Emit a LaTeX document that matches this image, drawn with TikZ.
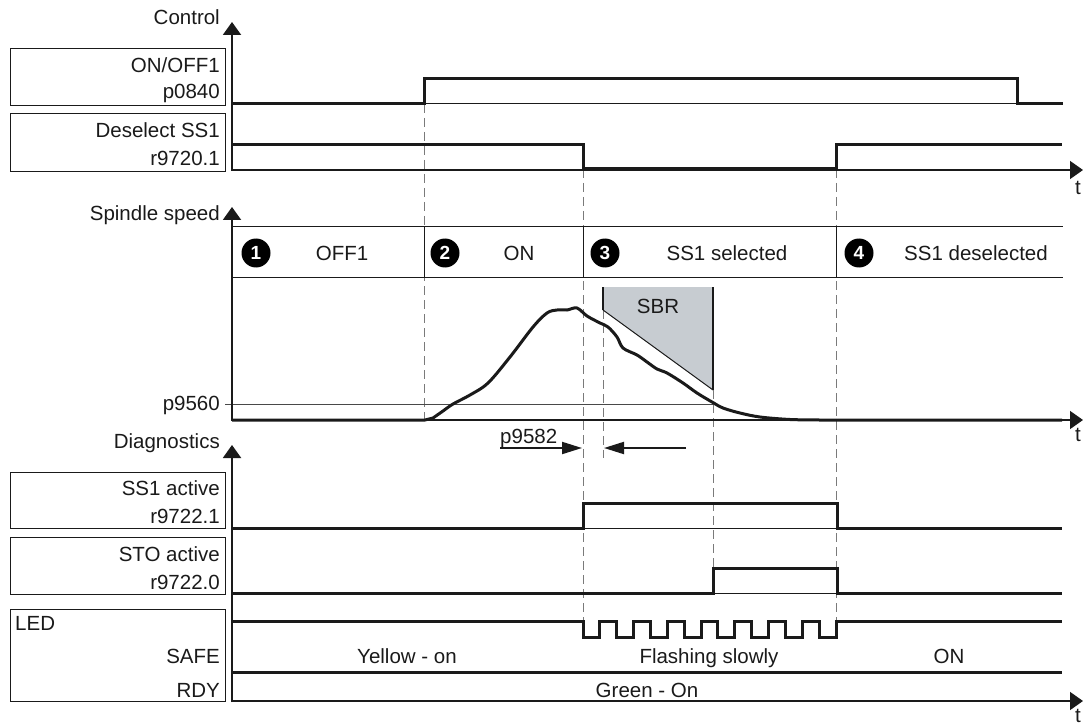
\documentclass[tikz,border=0pt]{standalone}
\usepackage{fontspec}
\setmainfont{Liberation Sans}
\usetikzlibrary{arrows.meta,positioning}
\definecolor{inkgray}{HTML}{1A1A1A}
\definecolor{guidegray}{HTML}{7A7A7A}
\definecolor{sbrgray}{HTML}{C7CCD1}

\begin{document}
\begin{tikzpicture}[
  x=1pt, y=-1pt,
  font=\fontsize{20.5}{24}\selectfont,
  sig/.style={line width=3pt, draw=inkgray},
  zeroline/.style={line width=1pt, draw=inkgray},
  yaxis/.style={line width=2pt, draw=inkgray, -{Triangle[length=13pt,width=18pt]}},
  taxis/.style={line width=1.5pt, draw=inkgray, -{Triangle[length=13pt,width=18pt]}},
  guide/.style={line width=1pt, draw=guidegray, dash pattern=on 9pt off 5pt},
  namebox/.style={draw=inkgray, line width=0.9pt},
  rlabel/.style={anchor=base east, inner sep=0pt, text=inkgray},
  mlabel/.style={anchor=base, inner sep=0pt, text=inkgray},
  stepnum/.style={circle, fill=black, text=white, inner sep=0pt, minimum size=29pt, font=\fontsize{19}{19}\selectfont\bfseries},
  spanarrow/.style={line width=2pt, draw=inkgray, -{Triangle[length=20pt,width=12pt]}}
]
\useasboundingbox (0,0) rectangle (1091,727);

\draw[guide] (424,104) -- (424,420);
\draw[guide] (583,169) -- (583,621);
\draw[guide] (836,169) -- (836,621);
\draw[guide] (603,310) -- (603,458);
\draw[guide] (713,390) -- (713,568);

\node[rlabel] (control) at (220,25) {Control};
\draw[namebox] (10,48) rectangle (225,105);
\node[rlabel] (onoff) at (220,73) {ON/OFF1};
\node[rlabel] (p0840) at (220,99) {p0840};
\draw[namebox] (10,113) rectangle (225,171);
\node[rlabel] (desel) at (220,138) {Deselect SS1};
\node[rlabel] (r97201) at (220,166) {r9720.1};
\draw[taxis] (232,170) -- (1083,170);
\draw[yaxis] (232,171) -- (232,22);
\node[mlabel] (t1) at (1078,195) {t};
\draw[zeroline] (424,104) -- (1017,104);
\draw[sig] (232,104) -- (424,104) -- (424,79) -- (1017,79) -- (1017,104) -- (1063,104);
\draw[sig] (232,145) -- (583,145) -- (583,169) -- (836,169) -- (836,145) -- (1062,145);

\node[rlabel] (speed) at (220,221) {Spindle speed};
\draw[zeroline] (232,227) -- (1063,227) (232,277) -- (1063,277);
\foreach \x in {424,583,836}
  \draw[zeroline] (\x,227) -- (\x,277);
\node[stepnum] (n1) at (256,253) {1};
\node[stepnum] (n2) at (445,253) {2};
\node[stepnum] (n3) at (605,253) {3};
\node[stepnum] (n4) at (859,253) {4};
\node[mlabel] (off1) at (342,260) {OFF1};
\node[mlabel] (on) at (519,260) {ON};
\node[mlabel] (sel) at (727,260) {SS1 selected};
\node[mlabel] (desl) at (976,260) {SS1 deselected};
\fill[sbrgray] (603,287) -- (713,287) -- (713,390) -- (603,310) -- cycle;
\draw[zeroline] (713,390) -- (603,310);
\draw[line width=1.8pt, draw=inkgray] (603,310) -- (603,287) (713,287) -- (713,390);
\node[mlabel] (sbr) at (658,313) {SBR};
\node[rlabel] (p9560) at (220,410) {p9560};
\draw[zeroline, draw=guidegray!60!black] (225,404) -- (713,404);
\draw[taxis] (232,420) -- (1083,420);
\draw[yaxis] (232,421) -- (232,207);
\node[mlabel] (t2) at (1078,441) {t};
\draw[sig, line join=round] (232,420) -- (425,420) -- plot[smooth, tension=0.55] coordinates {
  (433,418) (443,411) (453,404) (470,395) (488,383) (510,357) (533,327)
  (547,313) (557,310) (567,310) (577,308) (587,316) (600,323) (608,327)
  (617,337) (623,348) (637,355) (647,362) (657,369) (667,373) (683,383)
  (697,393) (712,402) (723,408) (740,413) (760,417) (790,419.5) (820,420)}
  -- (1062,420);
\node[anchor=base west, inner sep=0pt, text=inkgray] (p9582) at (500,443) {p9582};
\draw[spanarrow] (p9582.base west) ++(0,5) -- (582,448);
\draw[spanarrow] (686,448) -- (604,448);

\node[rlabel] (diag) at (220,448) {Diagnostics};
\draw[namebox] (10,472) rectangle (225,528);
\node[rlabel] (ss1act) at (220,495) {SS1 active};
\node[rlabel] (r97221) at (220,523) {r9722.1};
\draw[namebox] (10,537) rectangle (225,594);
\node[rlabel] (stoact) at (220,561) {STO active};
\node[rlabel] (r97220) at (220,589) {r9722.0};
\draw[namebox] (10,609) rectangle (225,701);
\node[anchor=base west, inner sep=0pt, text=inkgray] (led) at (15,630) {LED};
\node[rlabel] (safe) at (220,663) {SAFE};
\node[rlabel] (rdy) at (220,697) {RDY};
\draw[taxis] (232,701) -- (1083,701);
\draw[yaxis] (232,702) -- (232,445);
\node[mlabel] (t3) at (1078,722) {t};
\draw[zeroline] (583,528) -- (837,528);
\draw[sig] (232,528) -- (583,528) -- (583,503) -- (837,503) -- (837,528) -- (1062,528);
\draw[zeroline] (713,593) -- (837,593);
\draw[sig] (232,593) -- (713,593) -- (713,568) -- (837,568) -- (837,593) -- (1062,593);
\draw[sig] (232,621) -- (583,621)
  \foreach \k in {1,...,8} { -- ++(0,16) -- ++(16.87,0) -- ++(0,-16) -- ++(16.87,0) }
  -- (1062,621);
\node[mlabel] (yellow) at (407,663) {Yellow - on};
\node[mlabel] (flash) at (709,663) {Flashing slowly};
\node[mlabel] (ledon) at (949,663) {ON};
\draw[sig] (232,672) -- (1062,672);
\node[mlabel] (green) at (647,697) {Green - On};
\end{tikzpicture}
\end{document}
